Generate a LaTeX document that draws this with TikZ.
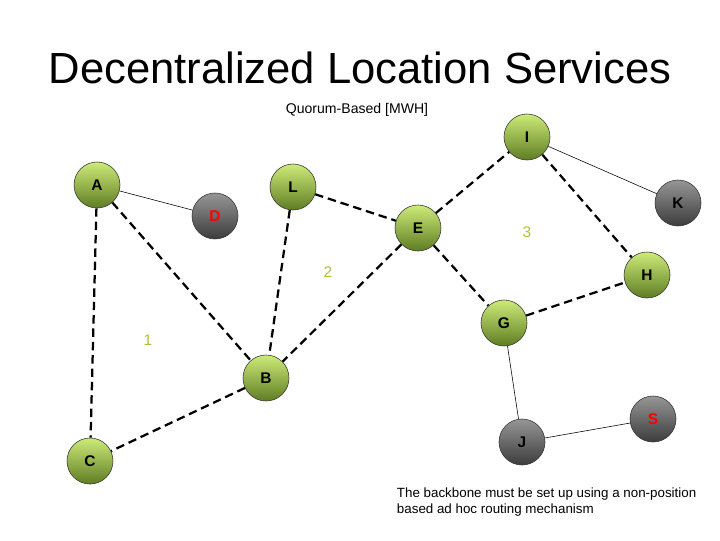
\documentclass[tikz,border=0pt]{standalone}
\usepackage{fontspec}
\setmainfont{Liberation Sans}
\usetikzlibrary{calc}
\definecolor{nodetop}{RGB}{205,235,120}
\definecolor{nodebot}{RGB}{95,125,35}
\definecolor{greytop}{RGB}{150,150,150}
\definecolor{greybot}{RGB}{60,60,60}
\definecolor{areatext}{RGB}{170,195,60}
\tikzset{
  peer/.style={circle, draw=black!80, thin, minimum size=1.15cm, inner sep=0pt,
    top color=nodetop, bottom color=nodebot, font=\fontsize{11}{13}\selectfont\bfseries},
  idle/.style={peer, top color=greytop, bottom color=greybot},
  quorum/.style={draw=black, line width=1.6pt, dash pattern=on 6pt off 3.5pt},
  link/.style={draw=black, line width=0.4pt},
  area/.style={text=areatext, font=\fontsize{11}{13}\selectfont}
}
\begin{document}
\begin{tikzpicture}[x=0.025cm, y=-0.025cm]
  \useasboundingbox (0,0) rectangle (720,540);
  \node at (360,68) {\fontsize{31}{36}\selectfont Decentralized Location Services};
  \node at (357,110) {\fontsize{10}{12}\selectfont Quorum-Based [MWH]};
  % peers
  \node[peer] (A) at (97,185) {A};
  \node[peer] (L) at (293,187) {L};
  \node[idle, text=red] (D) at (215,216) {D};
  \node[peer] (E) at (418,228) {E};
  \node[peer] (I) at (527,137) {I};
  \node[idle] (K) at (678,203) {K};
  \node[peer] (H) at (647,275) {H};
  \node[peer] (G) at (504,323) {G};
  \node[peer] (B) at (266,378) {B};
  \node[idle] (J) at (522,442) {J};
  \node[idle, text=red] (S) at (653,419) {S};
  \node[peer] (C) at (90,461) {C};
  % quorum areas
  \node[area] (q1) at (148,340) {1};
  \node[area] (q2) at (328,272) {2};
  \node[area] (q3) at (527,232) {3};
  % connectors
  \begin{scope}[on background layer/.style={}]
  \foreach \u/\v in {A/C, A/B, L/E, L/B, E/I, E/G, E/B, I/H, G/H, B/C}
    \draw[quorum] (\u) -- (\v);
  \foreach \u/\v in {A/D, I/K, G/J, J/S}
    \draw[link] (\u) -- (\v);
  \end{scope}
  \node[align=left, anchor=north west, font=\fontsize{9.5}{11.5}\selectfont] (note) at (392,483)
    {The backbone must be set up using a non-position\\based ad hoc routing mechanism};
\end{tikzpicture}
\end{document}
